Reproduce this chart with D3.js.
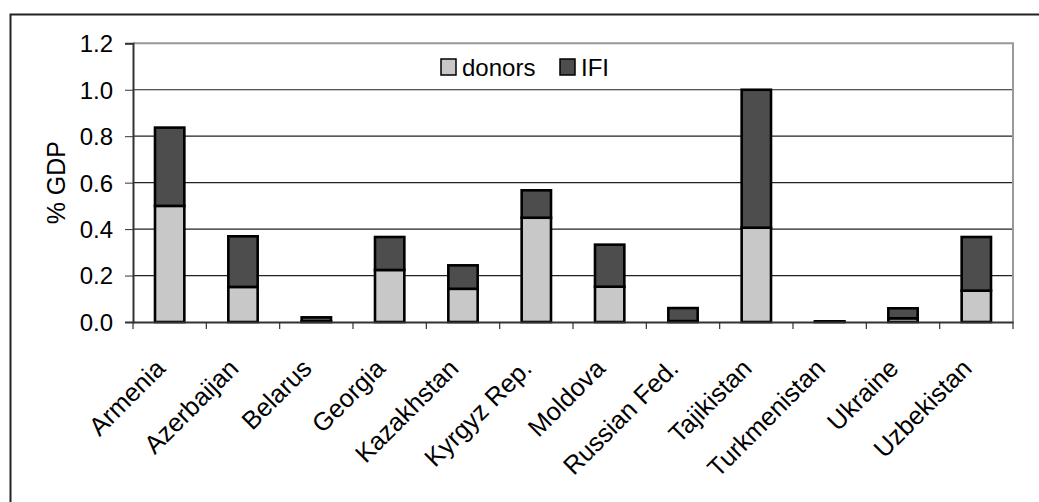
<!DOCTYPE html>
<html><head><meta charset="utf-8">
<script src="https://cdn.jsdelivr.net/npm/d3@7"></script>
<style>body{margin:0;background:#fff;} text{font-family:"Liberation Sans",Arial,sans-serif;}</style>
</head><body>
<svg id="c" width="1039" height="502"></svg>
<script>
const categories = ["Armenia","Azerbaijan","Belarus","Georgia","Kazakhstan","Kyrgyz Rep.","Moldova","Russian Fed.","Tajikistan","Turkmenistan","Ukraine","Uzbekistan"];
const donors = [0.50,0.151,0.003,0.224,0.143,0.449,0.152,0.004,0.406,0.001,0.016,0.135];
const ifi = [0.337,0.218,0.017,0.142,0.101,0.118,0.181,0.056,0.594,0.002,0.043,0.231];
const yTicks = [0,0.2,0.4,0.6,0.8,1.0,1.2];
const seriesNames = ["donors","IFI"];
const colors = ["#c8c8c8","#4d4d4d"];
const FS = 24;

const svg = d3.select("#c");
const L=133, R=1013, T=43.3, B=322;
svg.append("rect").attr("x",10.5).attr("y",14.5).attr("width",1040).attr("height",500)
  .attr("fill","none").attr("stroke","#222").attr("stroke-width",2);

const x = d3.scaleBand().domain(categories).range([L,R]).paddingInner(0).paddingOuter(0);
const y = d3.scaleLinear().domain([0,1.2]).range([B,T]);

// gridlines
svg.append("g").selectAll("line").data(yTicks.filter(d=>d>0 && d<1.2)).join("line")
  .attr("x1",L).attr("x2",R).attr("y1",d=>y(d)).attr("y2",d=>y(d))
  .attr("stroke","#222").attr("stroke-width",1.2);
// plot border top/right gray
svg.append("path").attr("d",`M${L},${y(1.2)}H${R}V${B}`).attr("fill","none").attr("stroke","#999").attr("stroke-width",2);

const data = categories.map((c,i)=>({cat:c,donors:donors[i],IFI:ifi[i]}));
const stack = d3.stack().keys(seriesNames)(data);
const bw = x.bandwidth()*0.4;
svg.append("g").selectAll("g").data(stack).join("g").attr("fill",(d,i)=>colors[i])
  .selectAll("rect").data(d=>d).join("rect")
  .attr("x",d=>x(d.data.cat)+(x.bandwidth()-bw)/2)
  .attr("width",bw)
  .attr("y",d=>y(d[1]))
  .attr("height",d=>Math.max(0,y(d[0])-y(d[1])))
  .attr("stroke","#000").attr("stroke-width",2.6);

// y axis
const yAxis = svg.append("g").attr("transform",`translate(${L},0)`)
  .call(d3.axisLeft(y).tickValues(yTicks).tickFormat(d3.format(".1f")).tickSize(8).tickPadding(12));
yAxis.select(".domain").attr("stroke","#333").attr("stroke-width",2);
yAxis.selectAll(".tick line").attr("stroke","#333");
yAxis.selectAll("text").attr("font-size",FS).attr("fill","#000").attr("dy","0.35em");

// x axis
const xAxis = svg.append("g").attr("transform",`translate(0,${B})`)
  .call(d3.axisBottom(x).tickSize(0).tickFormat(""));
xAxis.select(".domain").attr("stroke","#333").attr("stroke-width",2);
const edges = d3.range(categories.length+1).map(i=>L+i*x.bandwidth());
svg.append("g").selectAll("line").data(edges).join("line")
  .attr("x1",d=>d).attr("x2",d=>d).attr("y1",B).attr("y2",B+7).attr("stroke","#333").attr("stroke-width",1.2);

svg.append("g").selectAll("text").data(categories).join("text")
  .attr("transform",d=>`translate(${x(d)+x.bandwidth()/2-3},${B+48}) rotate(-45)`)
  .attr("text-anchor","end").attr("font-size",25.5).attr("fill","#000").text(d=>d);

// y label
svg.append("text").attr("transform",`translate(65,${(T+B)/2}) rotate(-90)`)
  .attr("text-anchor","middle").attr("font-size",FS+1).attr("fill","#000").text("% GDP");

// legend
const lg = svg.append("g");
const lx = [441,560];
seriesNames.forEach((s,i)=>{
  lg.append("rect").attr("x",lx[i]).attr("y",59).attr("width",15).attr("height",16)
    .attr("fill",colors[i]).attr("stroke","#000").attr("stroke-width",1.5);
  lg.append("text").attr("x",lx[i]+21).attr("y",76).attr("font-size",FS).attr("fill","#000").text(s);
});
</script>
</body></html>
